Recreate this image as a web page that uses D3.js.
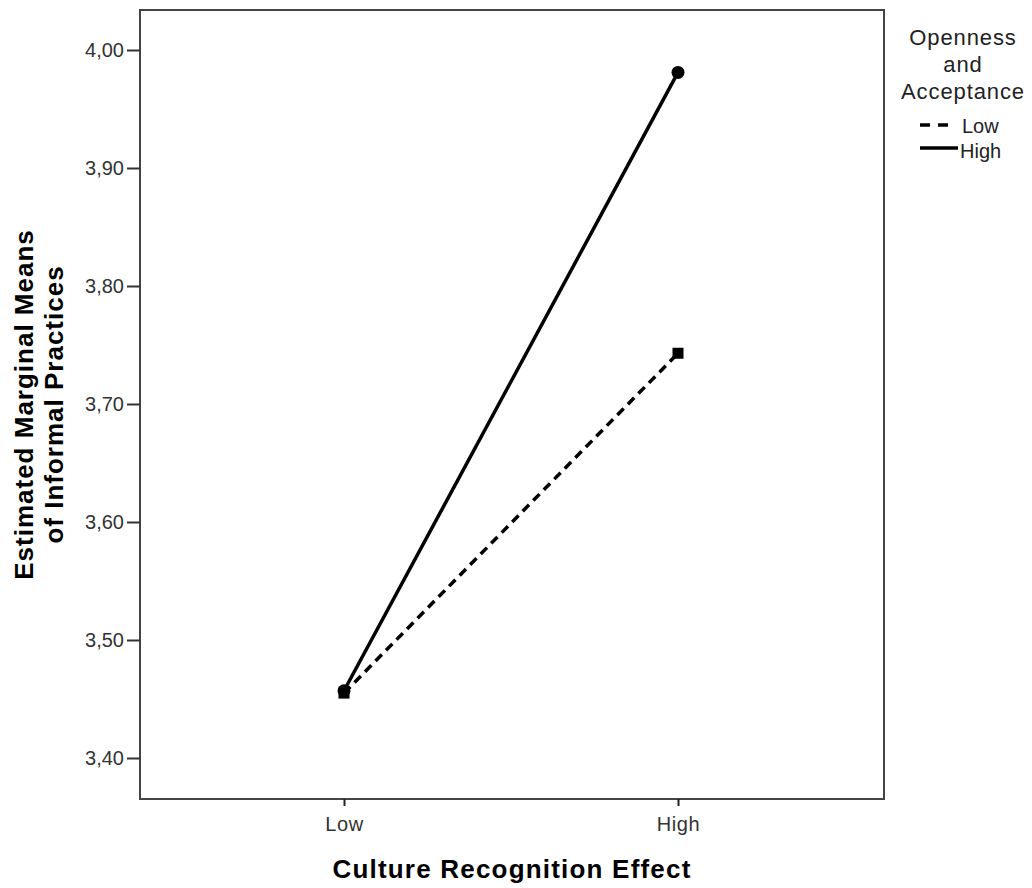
<!DOCTYPE html>
<html>
<head>
<meta charset="utf-8">
<script src="https://cdn.jsdelivr.net/npm/d3@7"></script>
<style>
  body { margin: 0; background: #fff; }
  text { font-family: "Liberation Sans", Arial, sans-serif; }
</style>
</head>
<body>
<div class="canvas"></div>
<script>
// data
const categories = ['Low', 'High'];
const seriesNames = ['Low', 'High'];
const lowValues = [3.455, 3.743];
const highValues = [3.457, 3.981];
const yTicks = [3.40, 3.50, 3.60, 3.70, 3.80, 3.90, 4.00];
const legendTitle = ['Openness', 'and', 'Acceptance'];

const width = 1032, height = 888;
const frame = {left: 140, right: 884, top: 10, bottom: 799};

const svg = d3.select('.canvas').append('svg')
    .attr('width', width)
    .attr('height', height);

const y = d3.scaleLinear()
    .domain([3.40 - 41 / 1180, 4.00 + 40 / 1180])
    .range([frame.bottom, frame.top]);

const x = d3.scalePoint()
    .domain(categories)
    .range([344, 678]);

// frame
svg.append('rect')
    .attr('x', frame.left)
    .attr('y', frame.top)
    .attr('width', frame.right - frame.left)
    .attr('height', frame.bottom - frame.top)
    .attr('fill', 'none')
    .attr('stroke', '#444')
    .attr('stroke-width', 2);

const fmt = v => d3.format('.2f')(v).replace('.', ',');

const yAxis = svg.append('g')
    .attr('transform', `translate(${frame.left},0)`)
    .call(d3.axisLeft(y).tickValues(yTicks).tickFormat(fmt).tickSize(13).tickPadding(3));
yAxis.select('.domain').remove();
yAxis.selectAll('line').attr('stroke', '#333').attr('stroke-width', 2);
yAxis.selectAll('text').attr('font-size', 20).attr('fill', '#333')
    .style('font-family', '"Liberation Sans", Arial, sans-serif');

const xAxis = svg.append('g')
    .attr('transform', `translate(0,${frame.bottom})`)
    .call(d3.axisBottom(x).tickSize(7).tickPadding(11));
xAxis.select('.domain').remove();
xAxis.selectAll('line').attr('stroke', '#222').attr('stroke-width', 2);
xAxis.selectAll('text').attr('font-size', 20).attr('fill', '#333')
    .attr('letter-spacing', 0.6)
    .style('font-family', '"Liberation Sans", Arial, sans-serif');

// axis titles
svg.append('text')
    .attr('x', 512).attr('y', 878)
    .attr('text-anchor', 'middle')
    .attr('font-size', 26).attr('font-weight', 'bold')
    .attr('letter-spacing', 1.2)
    .text('Culture Recognition Effect');

const yTitle = svg.append('text')
    .attr('transform', `translate(0,${(frame.top + frame.bottom) / 2}) rotate(-90)`)
    .attr('text-anchor', 'middle')
    .attr('font-size', 26).attr('font-weight', 'bold')
    .attr('letter-spacing', 1);
yTitle.append('tspan').attr('x', 0).attr('y', 33).text('Estimated Marginal Means');
yTitle.append('tspan').attr('x', 0).attr('y', 63).text('of Informal Practices');

// lines
const line = d3.line()
    .x((d, i) => x(categories[i]))
    .y(d => y(d));

svg.append('path')
    .datum(lowValues)
    .attr('d', line)
    .attr('fill', 'none')
    .attr('stroke', '#000')
    .attr('stroke-width', 3.5)
    .attr('stroke-dasharray', '9,6');

svg.append('path')
    .datum(highValues)
    .attr('d', line)
    .attr('fill', 'none')
    .attr('stroke', '#000')
    .attr('stroke-width', 3.5);

svg.selectAll('.sq')
    .data(lowValues)
    .enter().append('rect')
    .attr('x', (d, i) => x(categories[i]) - 5.5)
    .attr('y', d => y(d) - 5.5)
    .attr('width', 11).attr('height', 11)
    .attr('fill', '#000');

svg.selectAll('.dot')
    .data(highValues)
    .enter().append('circle')
    .attr('cx', (d, i) => x(categories[i]))
    .attr('cy', d => y(d))
    .attr('r', 6.5)
    .attr('fill', '#000');

// legend
svg.selectAll('.ltitle')
    .data(legendTitle)
    .enter().append('text')
    .attr('x', 963)
    .attr('y', (d, i) => 45 + i * 27)
    .attr('text-anchor', 'middle')
    .attr('font-size', 22)
    .attr('letter-spacing', 0.9)
    .attr('fill', '#222')
    .text(d => d);

const legend = svg.selectAll('.leg')
    .data(seriesNames)
    .enter().append('g')
    .attr('transform', (d, i) => `translate(920,${125 + i * 23})`);

legend.append('line')
    .attr('x1', 0).attr('x2', (d, i) => i === 0 ? 32 : 38)
    .attr('y1', 0).attr('y2', 0)
    .attr('stroke', '#000')
    .attr('stroke-width', 3.5)
    .attr('stroke-dasharray', (d, i) => i === 0 ? '10,8' : null);

legend.append('text')
    .attr('x', (d, i) => i === 0 ? 42 : 40).attr('y', (d, i) => i === 0 ? 8 : 10)
    .attr('font-size', 20)
    .attr('fill', '#222')
    .text(d => d);
</script>
</body>
</html>
